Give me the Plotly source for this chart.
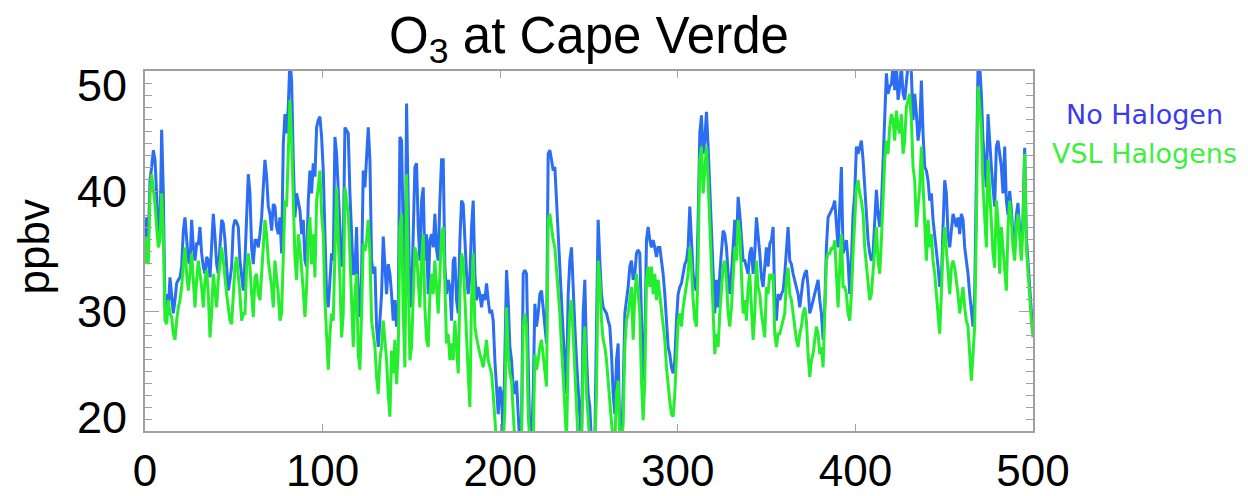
import numpy as np
import plotly.graph_objects as go

# Surface O3 (ppbv) at Cape Verde, model time steps 0-500
no_halogen = [
    34.2, 37.8, 36.2, 40.9, 42.0, 43.4, 42.6, 38.9, 36.7, 36.4,
    45.1, 39.8, 30.3, 31.4, 30.1, 32.8, 31.4, 29.8, 30.9, 32.3,
    32.6, 32.8, 33.7, 36.7, 37.8, 35.9, 34.2, 33.9, 37.6, 35.3,
    34.2, 35.6, 35.6, 37.0, 34.8, 33.7, 33.1, 34.5, 34.2, 32.8,
    35.9, 38.1, 36.2, 33.9, 33.1, 35.3, 37.6, 37.3, 35.9, 33.7,
    31.7, 32.6, 33.7, 37.0, 37.6, 37.4, 37.0, 34.2, 32.6, 31.7,
    34.2, 38.4, 41.4, 39.8, 35.3, 33.9, 35.9, 35.9, 35.3, 36.4,
    37.8, 40.3, 42.6, 41.2, 38.7, 38.1, 36.7, 38.9, 38.7, 37.0,
    36.4, 37.8, 34.8, 43.9, 46.4, 44.8, 47.0,
    51.0, 49.2, 42.6, 37.8, 39.8, 39.2, 38.4, 36.4, 37.6, 34.2,
    33.7, 39.2, 41.7, 39.8, 42.3, 41.2, 45.3, 45.9, 46.2, 44.5,
    41.7, 36.4, 31.4, 30.3, 33.1, 34.8, 34.2, 44.5, 43.1, 40.6,
    37.0, 33.7, 35.3, 45.3, 45.1, 44.8, 39.8, 37.0, 33.1, 33.1,
    37.0, 30.9, 29.5, 33.1, 41.7, 40.3, 42.6, 45.3, 42.6, 34.2,
    33.1, 33.7, 28.7, 27.0, 29.2, 31.4, 36.2, 33.7, 31.4, 33.9,
    33.1, 31.4, 29.2, 30.9, 28.7, 30.1, 44.5, 44.2, 34.2, 28.7,
    47.3, 39.8, 30.3, 30.9, 35.6, 42.0, 42.3, 37.0, 34.2, 39.2,
    40.3, 34.2, 36.4, 31.4, 35.9, 36.4, 35.3, 38.1, 35.1, 34.2,
    39.2, 42.6, 42.6, 33.7, 31.4, 32.6, 32.0,
    29.2, 34.2, 34.5, 30.9, 29.8, 35.9, 39.2, 38.9, 35.3, 33.1,
    31.4, 32.8, 37.0, 39.2, 33.1, 30.9, 32.0, 31.4, 30.3, 31.4,
    30.9, 32.3, 30.9, 29.8, 30.1, 29.2, 25.9, 23.7, 21.4, 23.7,
    23.1, 19.0, 25.9, 33.4, 30.9, 27.0, 25.9, 23.7, 23.1, 24.2,
    21.4, 19.0, 20.3, 33.1, 33.4, 33.1, 25.9, 19.0, 19.0, 23.1,
    30.6, 28.7, 29.8, 31.4, 31.7, 30.3, 29.2, 27.3, 43.1, 43.4,
    42.6, 41.7, 42.0, 39.2, 35.3, 33.1, 30.3, 28.1, 25.9, 23.1,
    31.4, 34.2, 35.3, 32.6, 28.7, 25.9, 23.7, 21.7, 19.0, 29.8,
    32.6, 26.4, 23.1, 22.0, 19.0, 19.0, 19.0, 28.7, 37.6,
    34.2, 31.4, 30.3, 30.1, 29.8, 29.2, 28.7, 26.4, 23.1, 21.4,
    25.9, 27.3, 19.0, 19.0, 23.1, 29.8, 30.9, 32.0, 33.7, 34.2,
    32.6, 33.1, 34.8, 35.1, 34.8, 28.7, 24.2, 27.3, 35.9, 37.0,
    35.9, 35.3, 35.9, 35.3, 34.5, 35.3, 35.3, 34.2, 33.1, 31.4,
    29.2, 27.0, 26.4, 25.3, 24.8, 25.9, 29.2, 31.4, 32.0, 32.3,
    33.1, 33.9, 34.2, 35.3, 38.7, 36.4, 33.1, 32.0, 31.7, 37.6,
    44.8, 46.3, 43.1, 44.2, 46.6, 43.7, 40.3, 37.6, 33.7, 29.8,
    32.6, 30.3, 33.1, 35.3, 36.7, 36.4, 35.3, 33.1, 31.4, 33.1,
    35.3, 37.6, 35.3, 39.5, 38.1, 36.4, 34.2, 34.2, 33.7, 33.1,
    34.8,
    35.3, 33.1, 34.8, 37.8, 36.4, 34.8, 32.8, 32.0, 33.7, 35.3,
    33.7, 35.6, 35.9, 37.0, 30.9, 29.2, 31.4, 30.9, 31.4, 31.7,
    33.1, 34.8, 37.0, 34.2, 33.9, 33.1, 32.6, 32.0, 31.4, 30.3,
    31.4, 32.6, 33.1, 33.4, 32.0, 29.8, 30.3, 30.9, 31.4, 32.0,
    32.6, 30.9, 29.8, 27.6, 30.3, 35.3, 37.8, 38.1, 38.4, 38.7,
    39.2, 37.0, 35.3, 38.7, 42.0, 34.8, 35.3, 35.9, 34.2, 31.4,
    34.2, 38.1, 39.8, 43.7, 43.1, 43.7, 44.2, 42.6, 40.3, 38.1,
    35.9, 34.8, 34.2, 34.8, 37.0, 40.1, 38.1, 37.0, 38.7, 42.6,
    45.9, 49.8, 48.1, 48.7, 48.9, 50.5, 48.4, 50.5, 47.6, 48.7,
    50.5, 48.1, 47.6, 49.2, 50.5, 51.0, 49.8, 45.9, 48.1, 46.4,
    44.2, 45.3, 49.2, 44.8, 42.0, 41.7, 40.9, 39.2, 39.8, 37.6,
    36.4, 35.3, 33.7, 32.0, 32.6, 37.0, 40.9, 39.8, 36.4, 35.3,
    37.0, 38.1, 37.6, 37.0, 37.8, 36.4, 38.1, 37.6, 35.3, 34.2,
    33.1, 31.4, 29.8, 28.7, 31.4, 39.8, 50.5, 50.5, 48.1, 44.2,
    42.0, 40.3, 46.4, 43.9, 42.0, 40.3, 38.7, 43.7, 44.2, 43.1,
    42.0, 39.8, 43.7, 39.2, 38.0, 40.0, 38.5, 36.3, 35.2, 38.0,
    39.0, 36.8, 35.2, 37.8, 43.6, 36.2, 34.0, 31.8, 30.0, 28.6,
]

vsl_halogens = [
    33.9, 36.2, 33.9, 39.8, 41.4, 40.3, 38.9, 37.0, 35.3, 35.9,
    39.8, 36.4, 29.2, 28.9, 30.9, 29.8, 29.5, 28.1, 27.6, 29.2,
    30.3, 30.9, 32.0, 33.9, 35.3, 33.1, 31.7, 33.1, 34.8, 32.6,
    30.3, 32.6, 34.2, 33.1, 32.0, 30.3, 32.6, 33.4, 31.4, 27.8,
    29.8, 33.1, 31.4, 30.3, 32.6, 34.2, 35.3, 34.2, 32.6, 31.4,
    30.3, 29.2, 28.9, 31.4, 33.7, 34.5, 33.1, 31.4, 29.2, 29.8,
    29.8, 33.7, 34.8, 33.7, 31.4, 29.5, 32.8, 33.1, 31.4, 30.9,
    33.1, 35.3, 37.6, 36.4, 34.2, 33.1, 32.0, 30.3, 34.2, 32.8,
    31.4, 29.2, 29.8, 34.5, 39.2, 38.7, 43.1,
    47.6, 44.2, 38.7, 34.5, 32.6, 36.4, 35.3, 33.7, 31.7, 29.5,
    32.0, 36.4, 37.8, 33.9, 36.4, 32.8, 39.2, 40.3, 41.7, 38.1,
    36.4, 30.9, 27.3, 25.1, 28.1, 29.8, 29.2, 35.3, 40.3, 35.9,
    32.6, 27.8, 29.8, 40.3, 38.9, 38.1, 34.8, 31.4, 27.0, 31.4,
    33.1, 26.4, 25.1, 29.8, 35.6, 35.0, 35.9, 37.6, 34.8, 29.2,
    28.1, 27.0, 24.5, 23.1, 25.9, 27.0, 29.2, 27.6, 25.9, 23.1,
    21.2, 26.7, 24.8, 27.6, 23.9, 26.7, 37.0, 38.1, 29.8, 25.3,
    41.4, 32.6, 25.9, 27.0, 31.4, 35.3, 34.8, 32.0, 30.3, 34.2,
    36.4, 30.3, 27.6, 27.0, 31.4, 33.1, 31.4, 34.2, 31.4, 29.8,
    33.1, 36.4, 37.0, 32.6, 27.3, 28.1, 25.9,
    27.3, 25.9, 29.2, 26.4, 24.8, 31.4, 34.8, 34.2, 30.9, 27.0,
    24.8, 22.0, 30.9, 34.8, 28.7, 27.8, 27.0, 26.4, 25.9, 25.3,
    26.4, 27.6, 25.9, 25.3, 24.8, 23.1, 20.9, 19.0, 19.0, 19.0,
    19.0, 19.0, 21.7, 30.3, 26.4, 24.8, 24.2, 22.0, 19.0, 19.0,
    19.0, 19.0, 19.0, 28.7, 29.8, 28.7, 21.4, 19.0, 19.0, 19.0,
    26.4, 25.1, 25.9, 27.0, 27.6, 26.4, 25.3, 23.7, 37.6, 38.1,
    37.0, 35.9, 35.3, 33.6, 32.0, 29.8, 27.0, 24.8, 22.0, 19.0,
    26.4, 29.8, 30.9, 28.1, 24.8, 22.0, 19.0, 19.0, 19.0, 25.9,
    28.7, 23.1, 20.3, 19.0, 19.0, 19.0, 19.0, 23.1, 34.2,
    32.6, 29.2, 27.6, 27.0, 25.9, 24.2, 23.1, 21.4, 19.0, 19.0,
    23.1, 24.2, 19.0, 19.0, 20.6, 27.0, 29.2, 29.8, 30.9, 32.0,
    27.6, 31.4, 33.1, 31.4, 29.8, 24.2, 20.9, 24.2, 32.6, 33.7,
    32.0, 33.7, 31.4, 33.1, 30.9, 32.6, 31.4, 30.3, 29.2, 27.6,
    25.3, 23.7, 22.5, 21.4, 21.2, 23.1, 26.4, 29.2, 29.8, 28.7,
    30.3, 31.4, 32.0, 33.1, 35.3, 33.7, 30.9, 29.2, 28.7, 34.2,
    42.6, 43.7, 39.8, 41.4, 43.7, 40.9, 37.6, 34.2, 29.8, 26.4,
    28.1, 27.0, 29.8, 32.0, 33.7, 34.2, 32.6, 29.8, 28.7, 30.3,
    32.6, 35.3, 34.2, 37.6, 36.4, 33.1, 29.8, 30.9, 29.2, 32.0,
    33.1,
    30.3, 27.6, 29.8, 34.2, 32.0, 31.4, 29.8, 28.7, 27.8, 32.0,
    31.4, 33.1, 32.6, 33.1, 28.1, 27.0, 28.1, 28.1, 28.7, 29.2,
    29.8, 32.6, 33.6, 31.4, 30.9, 29.8, 28.7, 27.6, 27.0, 28.1,
    28.7, 29.8, 30.3, 29.2, 26.4, 24.5, 25.9, 26.4, 27.6, 28.7,
    28.1, 26.4, 27.0, 25.3, 29.8, 34.2, 34.8, 34.8, 35.3, 35.1,
    35.9, 33.6, 30.3, 33.6, 36.4, 32.0, 32.0, 31.4, 29.8, 29.2,
    31.4, 34.8, 38.1, 40.3, 40.9, 39.8, 39.2, 38.1, 35.3, 33.6,
    32.0, 30.9, 31.4, 33.1, 35.3, 37.0, 34.2, 33.1, 35.9, 39.2,
    42.6, 44.2, 43.1, 45.3, 46.4, 45.9, 44.2, 46.7, 45.3, 44.8,
    46.4, 43.1, 44.2, 47.0, 47.6, 48.1, 45.9, 42.0, 40.9, 37.0,
    38.7, 40.3, 43.7, 40.3, 36.4, 34.2, 37.6, 35.3, 36.4, 34.2,
    33.1, 31.4, 29.8, 28.1, 31.4, 35.3, 37.0, 35.3, 33.1, 31.4,
    33.6, 34.2, 33.6, 32.6, 31.4, 29.8, 30.9, 32.0, 30.3, 29.2,
    28.7, 26.4, 24.2, 26.4, 28.7, 37.0, 48.7, 47.0, 45.3, 40.3,
    37.6, 35.3, 42.6, 39.8, 37.6, 34.8, 33.6, 39.2, 37.6, 33.1,
    37.0, 35.3, 33.6, 31.7, 37.0, 39.2, 37.6, 35.3, 34.2, 37.0,
    38.1, 35.9, 34.2, 37.0, 43.1, 35.3, 33.1, 30.9, 29.2, 27.8,
]

x_ticks = [0, 100, 200, 300, 400, 500]
y_ticks = [20, 30, 40, 50]
series_names = ["No Halogen", "VSL Halogens"]

BLUE = "#2b6ef2"
GREEN = "#25ee2e"
FRAME = "#a0a0a0"
FONT = "Liberation Sans, Arial, sans-serif"

# time axis: evenly spaced steps across 0-500
t_nh = np.linspace(0, 500, len(no_halogen))
t_vsl = np.linspace(0, 500, len(vsl_halogens))

fig = go.Figure()
fig.add_trace(go.Scatter(x=t_nh, y=no_halogen, mode="lines", name=series_names[0],
                         line=dict(color=BLUE, width=3), showlegend=False))
fig.add_trace(go.Scatter(x=t_vsl, y=vsl_halogens, mode="lines", name=series_names[1],
                         line=dict(color=GREEN, width=3), showlegend=False))

fig.update_layout(
    width=1248, height=496,
    margin=dict(l=145, r=215, t=71, b=65),
    paper_bgcolor="white", plot_bgcolor="white",
    title=dict(text="O<sub>3</sub> at Cape Verde", x=0.5, xref="paper",
               y=0.93, yref="container", yanchor="middle",
               font=dict(family=FONT, size=51, color="black")),
    xaxis=dict(range=[0, 500], tickvals=x_ticks, ticks="inside", ticklen=7,
               tickcolor=FRAME, tickwidth=1.2, showline=True, linecolor=FRAME,
               linewidth=1.5, mirror="ticks", showgrid=False, zeroline=False,
               automargin=False,
               tickfont=dict(family=FONT, size=44, color="black"),
               ticklabelstandoff=0),
    yaxis=dict(range=[20, 50], tickvals=y_ticks, ticks="inside", ticklen=14,
               tickcolor=FRAME, tickwidth=1.2, showline=True, linecolor=FRAME,
               linewidth=1.5, mirror="ticks", showgrid=False, zeroline=False,
               showticklabels=False, automargin=False,
               minor=dict(dtick=1, ticks="inside", ticklen=7, tickcolor=FRAME,
                          tickwidth=1.2, showgrid=False)),
)

# y tick labels (the outer two sit just inside the frame)
shifts = {20: 14, 30: 0, 40: 0, 50: -14}
for v in y_ticks:
    fig.add_annotation(x=0, xref="paper", xanchor="right", xshift=-16,
                       y=v, yref="y", yanchor="middle", yshift=shifts[v],
                       text=str(v), showarrow=False,
                       font=dict(family=FONT, size=45, color="black"))

# y-axis title
fig.add_annotation(x=(33 - 145) / 888, xref="paper", xanchor="center",
                   y=0.51, yref="paper", yanchor="middle", text="ppbv",
                   textangle=-90, showarrow=False,
                   font=dict(family=FONT, size=44, color="black"))

# series labels on the right
fig.add_annotation(x=1.125, xref="paper", y=0.88, yref="paper", text=series_names[0],
                   showarrow=False, xanchor="center", yanchor="middle",
                   font=dict(family="DejaVu Sans, Verdana, sans-serif", size=27, color="#3a3af0"))
fig.add_annotation(x=1.125, xref="paper", y=0.77, yref="paper", text=series_names[1],
                   showarrow=False, xanchor="center", yanchor="middle",
                   font=dict(family="DejaVu Sans, Verdana, sans-serif", size=27, color="#3cf03c"))

fig.write_html("out.html")
